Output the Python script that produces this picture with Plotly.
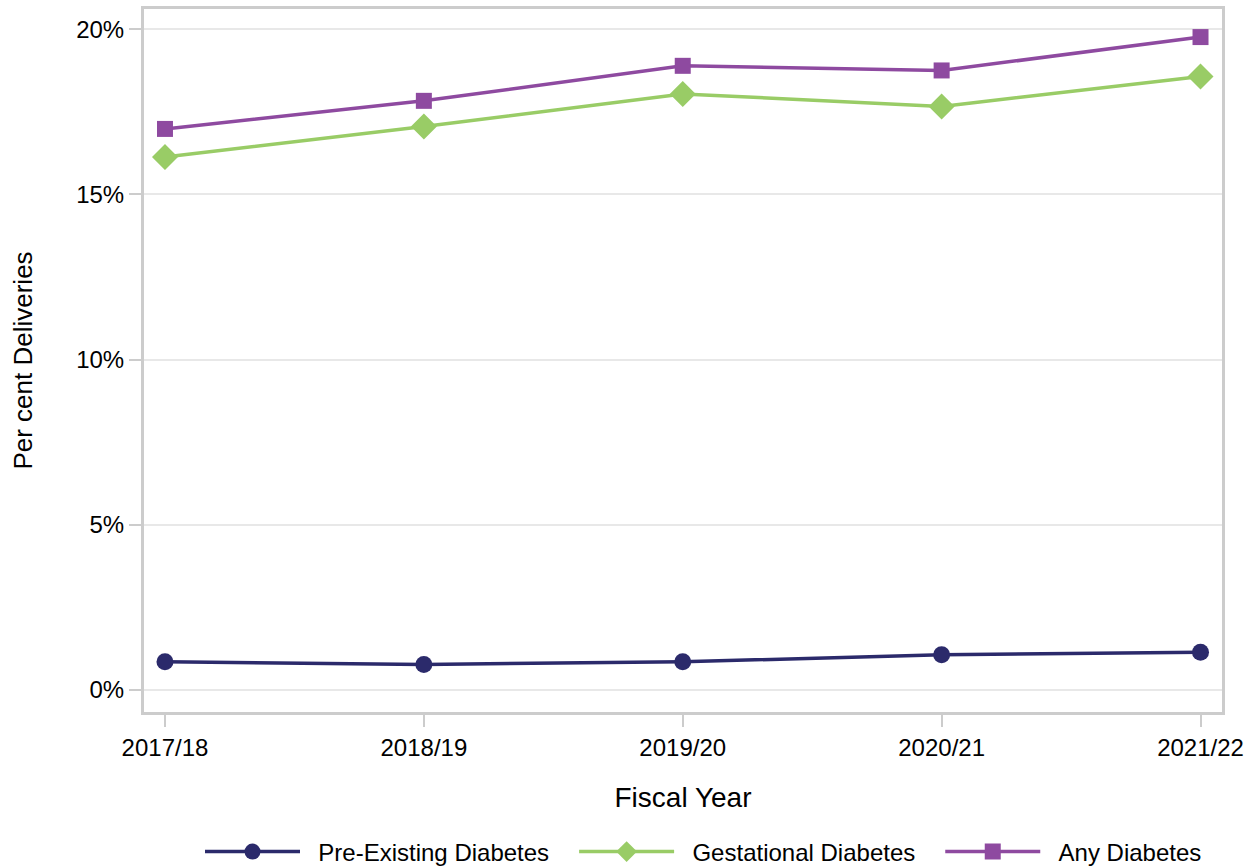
import plotly.graph_objects as go

years = ["2017/18", "2018/19", "2019/20", "2020/21", "2021/22"]
pre_existing = [0.85, 0.77, 0.85, 1.06, 1.14]
gestational = [16.13, 17.05, 18.04, 17.66, 18.57]
any_diabetes = [16.98, 17.83, 18.89, 18.75, 19.76]
y_ticks = [0, 5, 10, 15, 20]
y_tick_labels = ["0%", "5%", "10%", "15%", "20%"]

FONT = "Liberation Sans, Arial, sans-serif"
PRE = "\u00a0\u00a0"
PAD = "\u00a0\u00a0\u00a0"

fig = go.Figure()
fig.add_trace(go.Scatter(
    x=years, y=pre_existing, name=PRE + "Pre-Existing Diabetes" + PAD, mode="lines+markers",
    line=dict(color="#2b2a6b", width=3.5),
    marker=dict(symbol="circle", size=17, color="#2b2a6b")))
fig.add_trace(go.Scatter(
    x=years, y=gestational, name=PRE + "Gestational Diabetes" + PAD, mode="lines+markers",
    line=dict(color="#99cc66", width=3.5),
    marker=dict(symbol="diamond", size=20, color="#99cc66")))
fig.add_trace(go.Scatter(
    x=years, y=any_diabetes, name=PRE + "Any Diabetes", mode="lines+markers",
    line=dict(color="#8e4aa0", width=3.5),
    marker=dict(symbol="square", size=16, color="#8e4aa0")))

fig.update_layout(
    width=1253, height=867,
    margin=dict(l=144, r=31, t=9, b=155),
    paper_bgcolor="white", plot_bgcolor="white",
    font=dict(family=FONT, size=24, color="black"),
    showlegend=True,
    legend=dict(orientation="h", xref="container", yref="container",
                x=200 / 1253, xanchor="left", y=1 - 852 / 867, yanchor="middle",
                font=dict(size=24), itemwidth=95, traceorder="normal"),
    xaxis=dict(
        type="category", range=[-0.081, 4.083], automargin=False,
        title=dict(text="Fiscal Year", font=dict(size=28), standoff=28),
        showline=True, linecolor="#cccccc", linewidth=3, mirror=True,
        ticks="outside", ticklen=12, tickwidth=2, tickcolor="#cccccc",
        showgrid=False, tickfont=dict(size=24)),
    yaxis=dict(
        range=[-0.67, 20.61], automargin=False,
        tickvals=y_ticks, ticktext=y_tick_labels,
        title=dict(text="Per cent Deliveries", font=dict(size=26), standoff=37),
        showline=True, linecolor="#cccccc", linewidth=3, mirror=True,
        ticks="outside", ticklen=12, tickwidth=2, tickcolor="#cccccc",
        showgrid=True, gridcolor="#e8e8e8", gridwidth=2, zeroline=False,
        tickfont=dict(size=24)),
)

fig.write_html("out.html", config={"displayModeBar": False},
               post_script="document.body.style.margin='0';")
